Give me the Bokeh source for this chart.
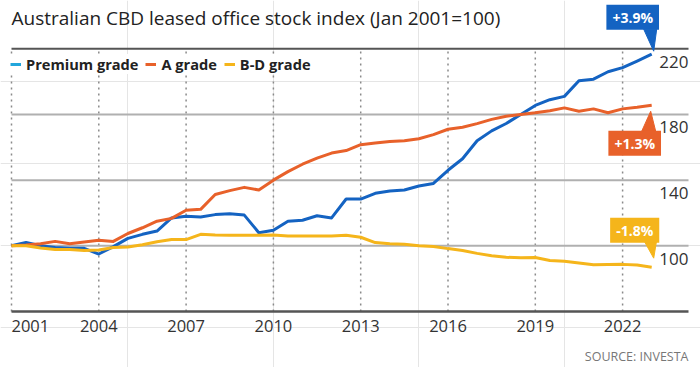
from bokeh.plotting import figure
from bokeh.models import Legend, LegendItem, ColumnDataSource
from bokeh.core.properties import value
from bokeh.embed import file_html
from bokeh.resources import INLINE

# ---- data (semi-annual, Jan 2001 = 100) ----
years = [2001 + 0.5 * i for i in range(45)]
premium = [100, 102, 100, 99, 98.5, 98.5, 95, 99.5, 104.5, 107, 109, 117, 118, 117.6, 119,
           119.5, 118.7, 108, 109.5, 115, 115.6, 118.3, 117, 128.5, 128.5, 132, 133.4, 134,
           136.4, 138, 146, 153, 164, 170, 174.5, 180, 185.5, 189, 191, 200.5, 201.5, 206,
           208.5, 212.5, 216.7]
a_grade = [100, 100.5, 101.3, 102.7, 101.3, 102.3, 103.4, 102.7, 107.5, 111, 115, 116.7,
           121.7, 122.2, 131.3, 133.6, 135.6, 134, 140, 145.2, 149.7, 153.4, 156.5, 158,
           161.6, 162.6, 163.6, 164, 165.2, 167.7, 171, 172.2, 174.4, 177, 178.9, 180, 181,
           182.3, 184, 182, 183.4, 181, 183.4, 184.4, 185.6]
bd_grade = [100, 100, 98.7, 97.7, 97.7, 97.2, 97.5, 99, 99.3, 100.7, 102.5, 103.8, 103.8,
            107, 106.6, 106.4, 106.4, 106.4, 106.6, 106, 106, 106, 106, 106.4, 105.2, 102,
            101.3, 100.9, 100, 99.6, 98.3, 97.2, 95.4, 94, 93, 92.8, 92.9, 91.1, 90.6, 89.5,
            88.5, 88.6, 88.7, 88.3, 87]
series_names = ["Premium grade", "A grade", "B-D grade"]
x_ticks = [2001, 2004, 2007, 2010, 2013, 2016, 2019, 2022]
x_labels = ["2001", "2004", "2007", "2010", "2013", "2016", "2019", "2022"]
y_ticks = [100, 140, 180, 220]
y_labels = ["100", "140", "180", "220"]
y_base = 60
callouts = ["+3.9%", "+1.3%", "-1.8%"]
title_text = "Australian CBD leased office stock index (Jan 2001=100)"
source_text = "SOURCE: INVESTA"

BLUE = "#1463c2"
ORANGE = "#e8612a"
YELLOW = "#f5b51b"
SWATCH = ["#22a6dc", ORANGE, YELLOW]
FONT = "Open Sans"

# layout: the frame fills the whole canvas; scales in px per unit
W, H = 700, 367
ppx = 29.1          # px per year
ppy = 1.642         # px per index point
XL = x_ticks[0] - 11 / ppx
XR = XL + W / ppx
YB = y_base - (H - 311) / ppy
YT = YB + H / ppy
XE = x_ticks[0] + 677 / ppx   # right end of the chart lines

p = figure(width=W, height=H, x_range=(XL, XR), y_range=(YB, YT),
           output_backend="svg", toolbar_location=None,
           x_axis_location=None, y_axis_location=None,
           min_border=0)
p.outline_line_color = None
p.background_fill_color = "white"
p.border_fill_color = "white"

# title and source as texts
p.text(x=[x_ticks[0]], y=[y_ticks[-1]], text=[title_text], text_align="left",
       text_baseline="middle", y_offset=-31, text_font=value(FONT),
       text_font_size="19px", text_color="#222222")
p.text(x=[XE], y=[y_base], text=[source_text], text_align="right",
       text_baseline="middle", y_offset=45, text_font=value(FONT),
       text_font_size="12.5px", text_color="#777777")

# vertical dotted grid
p.segment(x0=x_ticks, y0=[y_base] * len(x_ticks), x1=x_ticks,
          y1=[y_ticks[-1]] * len(x_ticks),
          line_color="#8a8a8a", line_width=1.5, line_dash=value([2, 4]))

# horizontal grid
p.segment(x0=[x_ticks[0]] * 3, y0=y_ticks[:3], x1=[XE] * 3, y1=y_ticks[:3],
          line_color="#b0b0b0", line_width=2)
p.segment(x0=[x_ticks[0]], y0=[y_ticks[-1]], x1=[XE], y1=[y_ticks[-1]],
          line_color="#555555", line_width=2)
p.segment(x0=[x_ticks[0]], y0=[y_base], x1=[XE], y1=[y_base],
          line_color="#555555", line_width=2.5)

# x labels
p.text(x=x_ticks, y=[y_base] * len(x_ticks), text=x_labels,
       text_align=["left"] + ["center"] * (len(x_ticks) - 1), text_baseline="middle",
       y_offset=14, text_font=value(FONT), text_font_size="16.5px", text_color="#333333")
# y labels
p.text(x=[XE] * len(y_ticks), y=y_ticks, text=y_labels, text_align="right",
       text_baseline="middle", y_offset=13, text_font=value(FONT),
       text_font_size="17px", text_color="#333333")

# series
vals = [premium, a_grade, bd_grade]
cols = [BLUE, ORANGE, YELLOW]
for v, c in zip(vals, cols):
    p.line(years, v, line_color=c, line_width=3, line_join="round")

# legend (swatch renderers)
items = []
for name, v, c in zip(series_names, vals, SWATCH):
    r = p.line(years, v, line_color=c, line_width=3, visible=False)
    items.append(LegendItem(label=name, renderers=[r]))
legend = Legend(items=items, orientation="horizontal", location=(10, H - 50 - 24),
                margin=0, padding=2, spacing=7, label_standoff=5, glyph_width=11,
                glyph_height=20, label_text_font=FONT, label_text_font_size="14.6px",
                label_text_font_style="bold", label_text_color="#222222",
                background_fill_color="white", background_fill_alpha=1,
                border_line_color=None)
p.add_layout(legend)

# callouts
ends_x = [years[-1]] * 3
ends_y = [v[-1] for v in vals]
box_dx = [-19, -17, -17]
box_dy = [-37, 38, -37]
ptr = [[(-8, -25), (5, -25), (2, -3)],
       [(-10, 26), (4, 26), (-1, 6)],
       [(-8, -27), (5, -27), (2, -9)]]
xs, ys = [], []
for ex, ey, tri in zip(ends_x, ends_y, ptr):
    xs.append([ex + dx / ppx for dx, dy in tri])
    ys.append([ey - dy / ppy for dx, dy in tri])
p.patches(xs, ys, fill_color=cols, line_color=cols, line_width=1)

src = ColumnDataSource(dict(x=ends_x, y=ends_y, text=callouts, color=cols,
                            xo=box_dx, yo=box_dy))
p.text(x="x", y="y", text="text", x_offset="xo", y_offset="yo", source=src,
       text_align="center", text_baseline="middle", text_color="white",
       text_font=value(FONT), text_font_style="bold", text_font_size="14px",
       background_fill_color="color", padding=(6, 3))

open("out.html", "w").write(file_html(p, INLINE))
